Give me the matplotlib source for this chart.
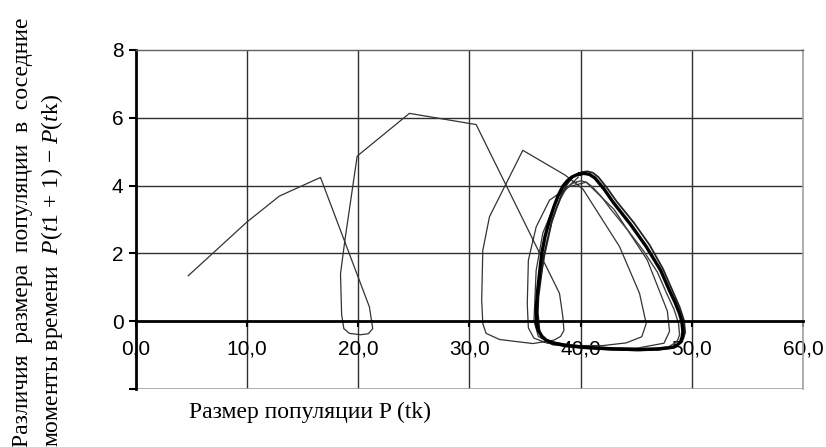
import matplotlib
matplotlib.use('Agg')
import matplotlib.pyplot as plt

# Переходный процесс: размер популяции P(tk) и разность P(tk+1) - P(tk)
p_trans = [4.7, 10.0, 12.9, 16.6, 21.0, 21.3, 20.9, 20.2, 19.2, 18.7, 18.5, 18.4, 18.8, 19.9,
           24.6, 30.6, 38.1, 38.4, 38.5, 38.2, 37.6, 35.7, 32.7, 31.5, 31.2, 31.1, 31.2, 31.8,
           34.8, 38.6, 40.2, 43.5, 45.3, 45.9, 45.5, 44.1, 42.0, 39.0, 37.0, 35.8, 35.3, 35.2,
           35.3, 36.0, 37.2, 38.9, 40.5, 43.0, 46.0, 47.8, 48.0, 47.5, 45.0, 41.0, 37.5, 36.2,
           35.8, 36.0, 36.6, 38.0, 39.8]
dp_trans = [1.34, 2.93, 3.69, 4.24, 0.42, -0.22, -0.37, -0.40, -0.36, -0.22, 0.20, 1.40, 2.40, 4.87,
            6.13, 5.80, 0.82, 0.13, -0.27, -0.45, -0.56, -0.66, -0.54, -0.36, -0.07, 0.62, 2.09, 3.08,
            5.04, 4.31, 3.90, 2.20, 0.82, -0.07, -0.46, -0.64, -0.72, -0.72, -0.65, -0.50, -0.20, 0.50,
            1.80, 2.78, 3.57, 3.96, 4.10, 3.30, 1.80, 0.30, -0.30, -0.65, -0.80, -0.80, -0.70, -0.45,
            0.00, 1.50, 2.60, 3.70, 4.25]

# Предельный цикл (несколько близких витков)
p_cyc1 = [39.9, 40.3, 40.8, 41.3, 42.1, 42.9, 44.5, 45.9, 47.2, 48.0, 48.5, 48.9, 49.1, 49.2,
          49.15, 49.0, 48.7, 48.3, 47.0, 45.3, 43.0, 40.8, 38.8, 37.5, 36.9, 36.5, 36.2, 36.05,
          36.0, 36.1, 36.3, 36.5, 36.8, 37.2, 37.6, 38.0, 38.4, 38.8, 39.2, 39.6, 39.9]
dp_cyc1 = [4.34, 4.36, 4.33, 4.22, 3.90, 3.52, 2.85, 2.20, 1.50, 0.90, 0.55, 0.22, 0.00, -0.30,
           -0.45, -0.60, -0.70, -0.77, -0.82, -0.84, -0.82, -0.78, -0.72, -0.64, -0.56, -0.44, -0.28, -0.10,
           0.30, 0.80, 1.40, 2.00, 2.50, 2.98, 3.38, 3.72, 3.98, 4.14, 4.25, 4.31, 4.34]

p_cyc2 = [39.6, 40.0, 40.5, 41.0, 41.8, 42.6, 44.2, 45.6, 46.9, 47.7, 48.4, 48.8, 48.9, 48.75,
          48.6, 47.9, 46.5, 44.8, 42.5, 40.3, 38.5, 37.3, 36.7, 36.4, 36.2, 36.1, 36.2, 36.4,
          36.8, 37.4, 37.8, 38.2, 38.6, 39.0, 39.3, 39.6]
dp_cyc2 = [4.10, 4.14, 4.10, 3.98, 3.70, 3.35, 2.70, 2.10, 1.45, 0.85, 0.35, -0.05, -0.40, -0.54,
           -0.62, -0.76, -0.80, -0.80, -0.78, -0.74, -0.68, -0.60, -0.52, -0.40, -0.22, 0.30, 0.80, 1.30,
           2.00, 2.90, 3.30, 3.62, 3.85, 4.00, 4.07, 4.10]

p_cyc3 = [40.2, 40.6, 41.1, 41.6, 42.4, 43.2, 44.8, 46.2, 47.4, 48.2, 48.9, 49.3, 49.4, 49.25,
          49.1, 48.4, 47.0, 45.0, 42.6, 40.4, 38.6, 37.4, 36.9, 36.6, 36.3, 36.15, 36.2, 36.4,
          36.7, 37.4, 37.9, 38.3, 38.8, 39.3, 39.8, 40.2]
dp_cyc3 = [4.40, 4.42, 4.38, 4.25, 3.92, 3.55, 2.90, 2.25, 1.55, 0.95, 0.42, 0.02, -0.33, -0.50,
           -0.62, -0.78, -0.84, -0.86, -0.84, -0.80, -0.74, -0.66, -0.58, -0.48, -0.28, 0.25, 0.70, 1.20,
           1.95, 2.95, 3.40, 3.75, 4.05, 4.25, 4.36, 4.40]

x_ticks = [0, 10, 20, 30, 40, 50, 60]
x_tick_labels = ['0,0', '10,0', '20,0', '30,0', '40,0', '50,0', '60,0']
y_ticks = [-2, 0, 2, 4, 6, 8]
y_tick_labels = ['', '0', '2', '4', '6', '8']

plt.rcParams['mathtext.fontset'] = 'custom'
plt.rcParams['mathtext.rm'] = 'Liberation Serif'
plt.rcParams['mathtext.it'] = 'Liberation Serif:italic'

fig = plt.figure(figsize=(8.26, 4.47), dpi=100)
ax = fig.add_axes([0.1646, 0.1298, 0.8075, 0.7584])

ax.set_xlim(0, 60)
ax.set_ylim(-2, 8)

# сетка
for xv in x_ticks[1:-1]:
    ax.axvline(xv, color='#303030', lw=1.0, zorder=1)
for yv in [2, 4, 6]:
    ax.axhline(yv, color='#303030', lw=1.0, zorder=1)
ax.axhline(-2, color='#a0a0a0', lw=1.2, zorder=1)

ax.plot(p_trans, dp_trans, color='#333333', lw=0.9, zorder=3)
ax.plot(p_cyc2, dp_cyc2, color='#444444', lw=1.0, zorder=3, solid_joinstyle='round')
ax.plot(p_cyc3, dp_cyc3, color='#222222', lw=1.3, zorder=3, solid_joinstyle='round')
ax.plot(p_cyc1, dp_cyc1, color='black', lw=2.4, zorder=4, solid_joinstyle='round')

ax.spines['left'].set_color('black')
ax.spines['left'].set_linewidth(2.0)
ax.spines['bottom'].set_position(('data', 0))
ax.spines['bottom'].set_color('black')
ax.spines['bottom'].set_linewidth(2.0)
ax.spines['bottom'].set_zorder(5)
ax.spines['top'].set_color('#606060')
ax.spines['top'].set_linewidth(1.0)
ax.spines['right'].set_color('#a0a0a0')
ax.spines['right'].set_linewidth(1.2)

ax.set_xticks(x_ticks)
ax.set_xticklabels(x_tick_labels, fontfamily='Liberation Sans', fontsize=15)
ax.set_yticks(y_ticks)
ax.set_yticklabels(y_tick_labels, fontfamily='Liberation Sans', fontsize=15)
ax.tick_params(axis='x', direction='out', length=4, width=1.5, pad=9)
ax.tick_params(axis='y', direction='out', length=5, width=1.5, pad=4)

fig.text(310 / 826, 1 - 412 / 447, 'Размер популяции P (tk)', fontfamily='Liberation Serif',
         fontsize=17, ha='center', va='center')
fig.text(23 / 826, 0.0, 'Различия  размера  популяции  в  соседние', fontfamily='Liberation Serif',
         fontsize=17, rotation=90, ha='center', va='bottom')
fig.text(52 / 826, 0.0, r'моменты времени  $P(t$1 + 1) − $P(t$k)', fontfamily='Liberation Serif',
         fontsize=17, rotation=90, ha='center', va='bottom')

fig.savefig('out.png', dpi=100)
